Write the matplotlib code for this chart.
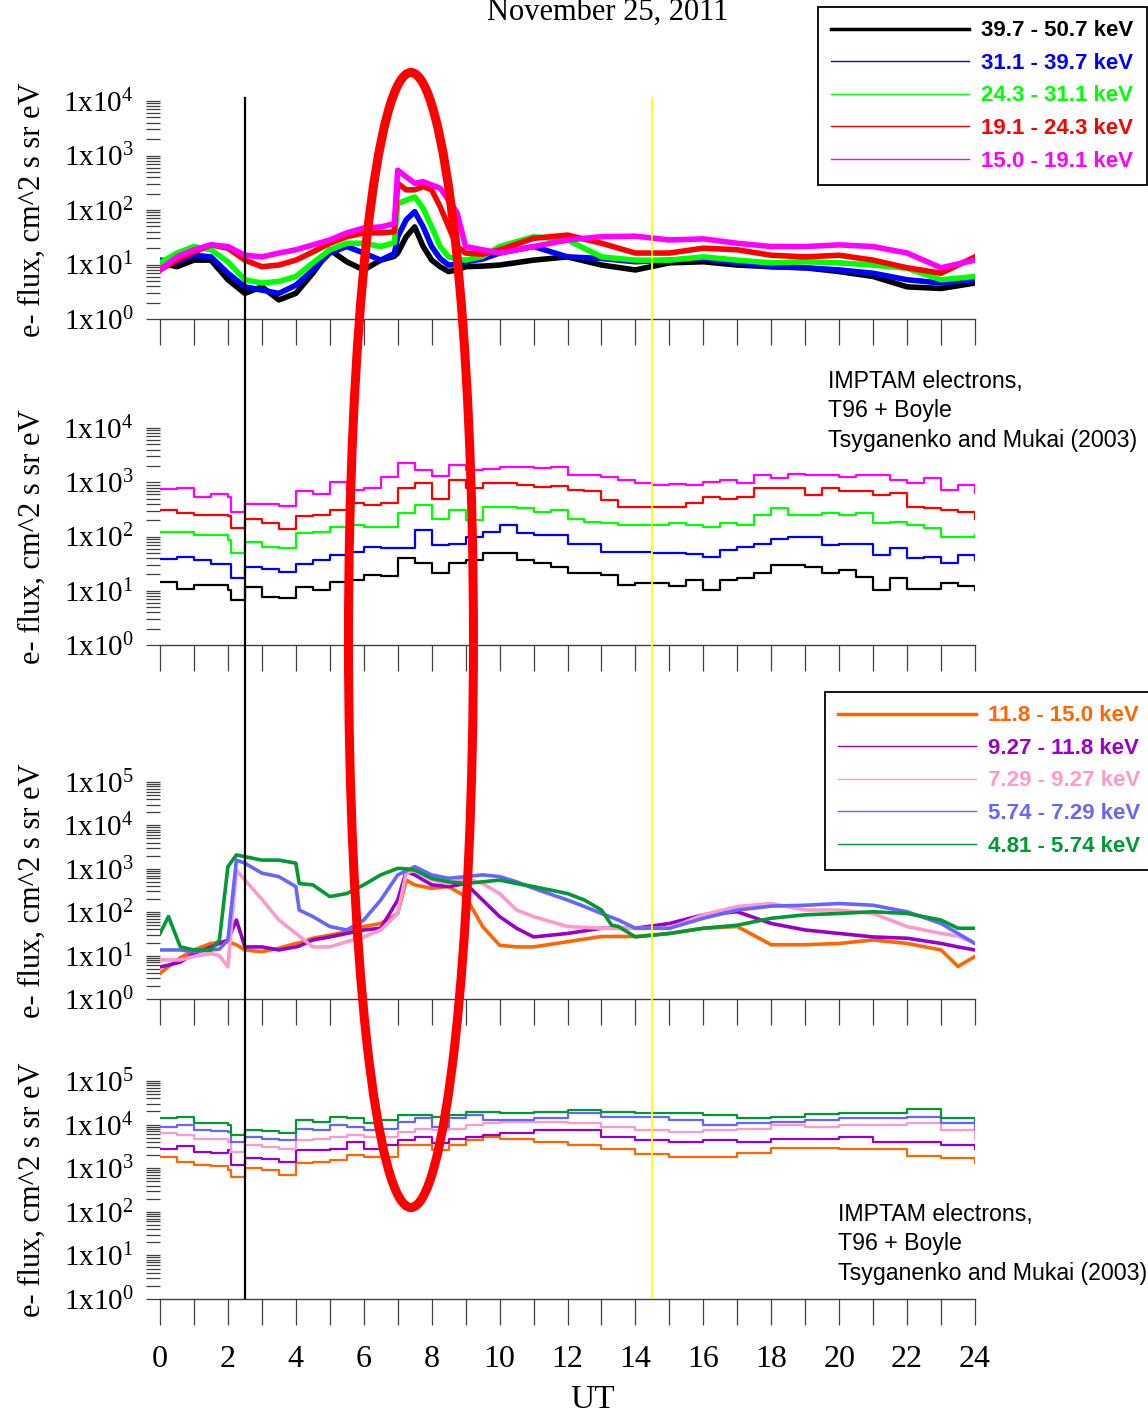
import matplotlib
matplotlib.use('Agg')
import matplotlib.pyplot as plt
import numpy as np
from matplotlib.lines import Line2D
from matplotlib.patches import Ellipse
from matplotlib import transforms
from matplotlib.ticker import LogLocator, FixedLocator, FixedFormatter, NullFormatter

plt.rcParams['font.family'] = 'Liberation Serif'
plt.rcParams['mathtext.fontset'] = 'custom'
plt.rcParams['mathtext.rm'] = 'Liberation Serif'
plt.rcParams['mathtext.it'] = 'Liberation Serif:italic'
plt.rcParams['mathtext.bf'] = 'Liberation Serif:bold'

# ---------------- data (log10 of e- flux) ----------------
# panel 1: measured 15-50 keV
t1 = [0, 0.5, 1, 1.5, 2, 2.5, 3, 3.5, 4, 4.5, 5, 5.5, 6, 6.5,
      6.9, 7.0, 7.25, 7.5, 7.75, 8.0, 8.25, 8.5, 8.75, 9.0, 9.5,
      10, 11, 12, 13, 14, 15, 16, 17, 18, 19, 20, 21, 22, 23, 24]
p1_black = [1.03, 0.96, 1.08, 1.08, 0.72, 0.47, 0.59, 0.35, 0.47, 0.84, 1.27, 1.05, 0.90, 1.08,
            1.15, 1.21, 1.51, 1.69, 1.33, 1.08, 0.96, 0.87, 0.90, 0.96, 0.97,
            0.99, 1.08, 1.14, 0.99, 0.90, 1.03, 1.05, 0.99, 0.96, 0.94, 0.87, 0.78, 0.59, 0.56, 0.66]
p1_blue = [1.08, 1.05, 1.17, 1.14, 0.84, 0.59, 0.53, 0.47, 0.62, 0.90, 1.21, 1.33, 1.21, 1.08,
           1.20, 1.51, 1.82, 1.97, 1.69, 1.33, 1.11, 0.99, 1.00, 1.05, 1.10,
           1.21, 1.33, 1.14, 1.11, 1.05, 1.08, 1.11, 1.03, 0.96, 0.94, 0.90, 0.84, 0.72, 0.66, 0.72]
p1_green = [1.03, 1.21, 1.33, 1.27, 1.05, 0.72, 0.66, 0.69, 0.78, 1.03, 1.27, 1.39, 1.39, 1.33,
            1.40, 2.12, 2.18, 2.24, 2.03, 1.69, 1.33, 1.14, 1.10, 1.08, 1.15,
            1.33, 1.51, 1.45, 1.14, 1.08, 1.08, 1.14, 1.08, 1.03, 1.05, 1.03, 0.99, 0.93, 0.72, 0.78]
p1_red = [0.90, 1.08, 1.23, 1.36, 1.30, 1.08, 0.96, 0.99, 1.08, 1.23, 1.39, 1.51, 1.58, 1.58,
          1.60, 2.49, 2.37, 2.37, 2.43, 2.37, 2.06, 1.69, 1.33, 1.21, 1.19,
          1.27, 1.48, 1.54, 1.39, 1.21, 1.21, 1.30, 1.27, 1.17, 1.14, 1.17, 1.08, 0.94, 0.84, 1.14]
p1_magenta = [0.90, 1.14, 1.27, 1.36, 1.33, 1.17, 1.14, 1.21, 1.27, 1.36, 1.45, 1.58, 1.67, 1.69,
              1.75, 2.73, 2.61, 2.49, 2.52, 2.46, 2.40, 2.18, 1.95, 1.33, 1.27,
              1.21, 1.33, 1.45, 1.51, 1.52, 1.45, 1.47, 1.39, 1.33, 1.33, 1.36, 1.33, 1.21, 0.94, 1.08]

# panel 2: IMPTAM model 15-50 keV
t2 = [0, 0.5, 1, 1.5, 2, 2.1] + list(np.arange(2.5, 24.01, 0.5))
p2_black = [1.17, 1.04, 1.10, 1.10, 1.01, 0.83, 1.07, 0.89, 0.86, 1.07,
            1.01, 1.17, 1.20, 1.29, 1.27, 1.60, 1.51, 1.32, 1.51, 1.57,
            1.69, 1.69, 1.57, 1.52, 1.44, 1.32, 1.32, 1.29, 1.11, 1.14,
            1.14, 1.08, 1.20, 1.01, 1.20, 1.23, 1.32, 1.47, 1.47, 1.44,
            1.32, 1.38, 1.26, 1.01, 1.23, 1.04, 1.04, 1.14, 1.08, 1.01]
p2_blue = [1.58, 1.63, 1.57, 1.50, 1.50, 1.23, 1.44, 1.41, 1.35, 1.50,
           1.57, 1.66, 1.72, 1.81, 1.78, 1.78, 2.12, 1.84, 1.87, 2.00,
           2.09, 2.21, 2.06, 2.03, 2.03, 1.87, 1.87, 1.72, 1.72, 1.72,
           1.70, 1.69, 1.67, 1.63, 1.75, 1.81, 1.87, 1.96, 1.99, 1.99,
           1.84, 1.87, 1.87, 1.66, 1.78, 1.60, 1.63, 1.51, 1.66, 1.57]
p2_green = [2.09, 2.09, 2.03, 2.03, 1.93, 1.69, 1.90, 1.81, 1.78, 2.06,
            2.09, 2.18, 2.21, 2.18, 2.18, 2.43, 2.58, 2.33, 2.49, 2.30,
            2.55, 2.55, 2.52, 2.46, 2.49, 2.33, 2.27, 2.24, 2.22, 2.21,
            2.22, 2.24, 2.21, 2.18, 2.24, 2.21, 2.40, 2.52, 2.40, 2.40,
            2.43, 2.40, 2.43, 2.24, 2.27, 2.21, 2.15, 1.99, 1.99, 2.03]
p2_red = [2.49, 2.43, 2.40, 2.40, 2.37, 2.15, 2.32, 2.24, 2.13, 2.37,
          2.40, 2.49, 2.61, 2.58, 2.61, 2.89, 2.98, 2.70, 3.04, 2.89,
          2.98, 2.98, 2.95, 2.92, 2.93, 2.86, 2.83, 2.67, 2.55, 2.55,
          2.55, 2.55, 2.61, 2.73, 2.70, 2.73, 2.89, 2.89, 2.89, 2.76,
          2.89, 2.83, 2.83, 2.76, 2.80, 2.55, 2.52, 2.49, 2.46, 2.33]
p2_magenta = [2.87, 2.89, 2.73, 2.79, 2.73, 2.46, 2.60, 2.60, 2.56, 2.84,
              2.79, 3.01, 2.86, 2.89, 3.10, 3.35, 3.22, 3.12, 3.31, 3.22,
              3.25, 3.29, 3.29, 3.26, 3.29, 3.13, 3.13, 3.10, 3.04, 2.99,
              2.95, 2.97, 2.95, 3.01, 3.05, 2.98, 3.13, 3.07, 3.16, 3.13,
              3.13, 3.10, 3.13, 3.13, 3.04, 2.98, 3.07, 2.86, 2.95, 2.80]

# panel 3: measured 4.8-15 keV
t3 = [0, 0.25, 0.6, 1, 1.5, 1.75, 2, 2.25, 2.5, 3, 3.5, 4, 4.1, 4.5, 5, 5.5, 6, 6.5,
      7, 7.25, 7.5, 8, 8.5, 9, 9.5, 10, 10.5, 11, 12, 12.5, 13, 13.3, 13.5, 14,
      15, 16, 17, 18, 19, 20, 21, 22, 23, 23.5, 24]
p3_orange = [0.59, 0.75, 0.95, 1.13, 1.28, 1.30, 1.32, 1.25, 1.13, 1.09,
             1.17, 1.28, 1.29, 1.40, 1.47, 1.55, 1.67, 1.74, 1.97, 2.74,
             2.63, 2.55, 2.59, 2.36, 1.67, 1.24, 1.20, 1.20, 1.32, 1.38,
             1.44, 1.44, 1.44, 1.44, 1.51, 1.63, 1.67, 1.25, 1.25, 1.28,
             1.36, 1.28, 1.13, 0.75, 0.98]
p3_purple = [0.74, 0.78, 0.85, 1.05, 1.20, 1.28, 1.36, 1.82, 1.20, 1.20,
             1.13, 1.20, 1.22, 1.36, 1.43, 1.51, 1.59, 1.63, 2.28, 2.94,
             2.86, 2.63, 2.59, 2.66, 2.28, 1.90, 1.63, 1.43, 1.51, 1.57,
             1.63, 1.63, 1.63, 1.63, 1.74, 1.94, 2.01, 1.74, 1.59, 1.51,
             1.43, 1.40, 1.28, 1.20, 1.13]
p3_pink = [0.90, 0.90, 0.90, 0.98, 1.05, 1.00, 0.74, 2.97, 2.74, 2.30,
           1.82, 1.51, 1.45, 1.20, 1.20, 1.32, 1.43, 1.59, 1.97, 2.90,
           2.97, 2.74, 2.66, 2.78, 2.66, 2.43, 2.05, 1.90, 1.67, 1.65,
           1.63, 1.63, 1.63, 1.63, 1.63, 1.94, 2.13, 2.20, 2.05, 2.05,
           1.97, 1.67, 1.51, 1.45, 1.28]
p3_lblue = [1.13, 1.13, 1.13, 1.09, 1.13, 1.15, 1.36, 3.20, 3.13, 2.90,
            2.82, 2.59, 2.05, 1.90, 1.67, 1.59, 1.82, 2.28, 2.86, 2.95,
            3.05, 2.86, 2.78, 2.82, 2.86, 2.82, 2.70, 2.55, 2.28, 2.13,
            1.97, 1.88, 1.82, 1.63, 1.63, 1.86, 2.05, 2.14, 2.16, 2.20,
            2.16, 2.01, 1.74, 1.51, 1.28]
p3_dgreen = [1.51, 1.90, 1.20, 1.13, 1.13, 1.36, 3.05, 3.32, 3.28, 3.20,
             3.20, 3.13, 2.66, 2.63, 2.36, 2.43, 2.63, 2.86, 3.01, 3.00,
             2.97, 2.78, 2.70, 2.66, 2.70, 2.74, 2.66, 2.59, 2.43, 2.28,
             2.05, 1.70, 1.67, 1.43, 1.51, 1.63, 1.70, 1.86, 1.94, 1.97,
             2.01, 1.97, 1.82, 1.63, 1.63]

# panel 4: IMPTAM model 4.8-15 keV
t4 = [0, 0.5, 1, 1.5, 2, 2.1] + list(np.arange(2.5, 9.51, 0.5)) + list(range(10, 25))
p4_orange = [3.25, 3.15, 3.07, 3.05, 2.96, 2.80, 3.01, 2.97, 2.85, 3.11, 3.15, 3.19, 3.30, 3.26,
             3.26, 3.53, 3.53, 3.42, 3.53, 3.65, 3.71,
             3.68, 3.59, 3.53, 3.45, 3.32, 3.25, 3.26, 3.34, 3.47, 3.47, 3.43, 3.45, 3.29, 3.24, 3.11]
p4_purple = [3.45, 3.51, 3.38, 3.36, 3.42, 3.07, 3.24, 3.21, 3.15, 3.42, 3.42, 3.45, 3.61, 3.45,
             3.53, 3.65, 3.72, 3.57, 3.68, 3.72, 3.76,
             3.80, 3.88, 3.88, 3.72, 3.65, 3.61, 3.65, 3.59, 3.68, 3.68, 3.71, 3.61, 3.61, 3.53, 3.45]
p4_pink = [3.80, 3.76, 3.68, 3.68, 3.61, 3.38, 3.53, 3.49, 3.45, 3.65, 3.68, 3.72, 3.76, 3.71,
           3.72, 3.84, 3.91, 3.88, 3.91, 3.99, 4.03,
           4.07, 4.07, 4.03, 3.95, 3.88, 3.84, 3.88, 3.91, 3.99, 3.95, 3.99, 3.99, 4.03, 3.88, 3.68]
p4_lblue = [3.95, 3.99, 3.88, 3.86, 3.84, 3.61, 3.71, 3.68, 3.65, 3.91, 3.88, 3.99, 3.95, 3.88,
            3.91, 4.07, 4.14, 3.95, 4.14, 4.22, 4.11,
            4.11, 4.14, 4.26, 4.18, 4.17, 4.11, 3.99, 4.03, 4.07, 4.11, 4.14, 4.14, 4.18, 4.03, 3.89]
p4_dgreen = [4.14, 4.18, 4.04, 4.03, 3.99, 3.76, 3.88, 3.85, 3.80, 4.11, 4.07, 4.18, 4.14, 4.03,
             4.11, 4.22, 4.22, 4.18, 4.22, 4.29, 4.29,
             4.26, 4.29, 4.33, 4.29, 4.27, 4.26, 4.22, 4.14, 4.18, 4.24, 4.26, 4.26, 4.35, 4.14, 4.08]

high_labels = ['39.7 - 50.7 keV', '31.1 - 39.7 keV', '24.3 - 31.1 keV',
               '19.1 - 24.3 keV', '15.0 - 19.1 keV']
low_labels = ['11.8 - 15.0 keV', '9.27 - 11.8 keV', '7.29 - 9.27 keV',
              '5.74 - 7.29 keV', '4.81 - 5.74 keV']
hour_labels = [str(h) if h % 2 == 0 else '' for h in range(25)]
model_note = 'IMPTAM electrons,\nT96 + Boyle\nTsyganenko and Mukai (2003)'
substorm_ut = 2.5
marker_ut = 14.5

high_colors = ['black', '#0000FF', '#00FF00', '#FF0000', '#FF00FF']
low_colors = ['#FF6600', '#9900CC', '#FF99CC', '#6666FF', '#009933']

# ---------------- figure ----------------
W, H = 1148, 1415
fig = plt.figure(figsize=(W / 100, H / 100), dpi=100)


def make_ax(top, bottom, ndec):
    ax = fig.add_axes([160 / W, 1 - bottom / H, 815 / W, (bottom - top) / H])
    ax.set_yscale('log')
    ax.set_xlim(0, 24)
    ax.set_ylim(1, 10 ** ndec)
    for s in ['top', 'right', 'left']:
        ax.spines[s].set_visible(False)
    ax.spines['bottom'].set_color('#404040')
    ax.spines['bottom'].set_linewidth(1.0)
    ax.yaxis.set_major_locator(FixedLocator([10 ** k for k in range(ndec + 1)]))
    ax.yaxis.set_major_formatter(FixedFormatter(['1x10$^{%d}$' % k for k in range(ndec + 1)]))
    ax.yaxis.set_minor_locator(LogLocator(base=10, subs=range(2, 10), numticks=20))
    ax.yaxis.set_minor_formatter(NullFormatter())
    ax.tick_params(axis='y', which='both', direction='out', length=10, width=0.9,
                   color='#404040', labelsize=21, pad=9)
    ax.set_xticks(range(25))
    ax.set_xticklabels(hour_labels)
    ax.tick_params(axis='x', which='major', direction='out', length=19, width=0.9,
                   color='#404040', labelsize=23, pad=14, labelbottom=False)
    ax.set_ylabel('e- flux, cm^2 s sr eV', fontsize=22)
    ax.yaxis.set_label_coords(-0.139, 0.5)
    return ax


ax1 = make_ax(101, 319, 4)
ax2 = make_ax(428, 645, 4)
ax3 = make_ax(782, 999, 5)
ax4 = make_ax(1081, 1299, 5)
ax4.tick_params(axis='x', labelbottom=True)

for vals, c in zip([p1_black, p1_blue, p1_green, p1_red, p1_magenta], high_colors):
    ax1.plot(t1, 10 ** np.array(vals), color=c, lw=4.0)
for vals, c in zip([p2_black, p2_blue, p2_green, p2_red, p2_magenta], high_colors):
    ax2.plot(t2, 10 ** np.array(vals), color=c, lw=1.6, drawstyle='steps-post')
for vals, c in zip([p3_orange, p3_purple, p3_pink, p3_lblue, p3_dgreen], low_colors):
    ax3.plot(t3, 10 ** np.array(vals), color=c, lw=2.6)
for vals, c in zip([p4_orange, p4_purple, p4_pink, p4_lblue, p4_dgreen], low_colors):
    ax4.plot(t4, 10 ** np.array(vals), color=c, lw=1.6, drawstyle='steps-post')

ax4.set_xlabel('UT', fontsize=24)
ax4.xaxis.set_label_coords(0.531, -0.39)

fig.text(608 / W, 1 - 20 / H, 'November 25, 2011', ha='center', va='baseline', fontsize=22)

for x0, y0 in [(828, 370), (838, 1203)]:
    fig.text(x0 / W, 1 - y0 / H, model_note, ha='left', va='top', fontsize=16.7,
             family='Liberation Sans', linespacing=1.35)

# legends
leg_prop = dict(family='Liberation Sans', weight='bold', size=16)
h_high = [Line2D([], [], color=c, lw=2.5 if i == 0 else 1.0) for i, c in enumerate(high_colors)]
h_low = [Line2D([], [], color=c, lw=2.5 if i == 0 else 1.0) for i, c in enumerate(low_colors)]
for handles, labels, colors, anchor in [(h_high, high_labels, high_colors, (818 / W, 1 - 7 / H)),
                                        (h_low, low_labels, low_colors, (825 / W, 1 - 692 / H))]:
    leg = fig.legend(handles, labels, loc='upper left', bbox_to_anchor=anchor,
                     bbox_transform=fig.transFigure, prop=leg_prop, labelcolor=colors,
                     handlelength=6.2, handletextpad=0.55, labelspacing=0.52,
                     borderpad=0.6, borderaxespad=0, fancybox=False, framealpha=1,
                     edgecolor='black')
    leg.get_frame().set_linewidth(1.3)

# vertical markers and highlight ellipse spanning all panels
btr = transforms.blended_transform_factory(ax4.transData, fig.transFigure)
fig.add_artist(Line2D([substorm_ut, substorm_ut], [1 - 98 / H, 1 - 1298 / H], transform=btr,
                      color='black', lw=1.6))
fig.add_artist(Line2D([marker_ut, marker_ut], [1 - 98 / H, 1 - 1298 / H], transform=btr,
                      color='#FFFF00', lw=1.3))
fig.add_artist(Ellipse((7.39, 1 - 640 / H), 3.68, 1135 / H, transform=btr,
                       fill=False, edgecolor='#FF0000', lw=6.5))

fig.savefig('out.png', dpi=100)
